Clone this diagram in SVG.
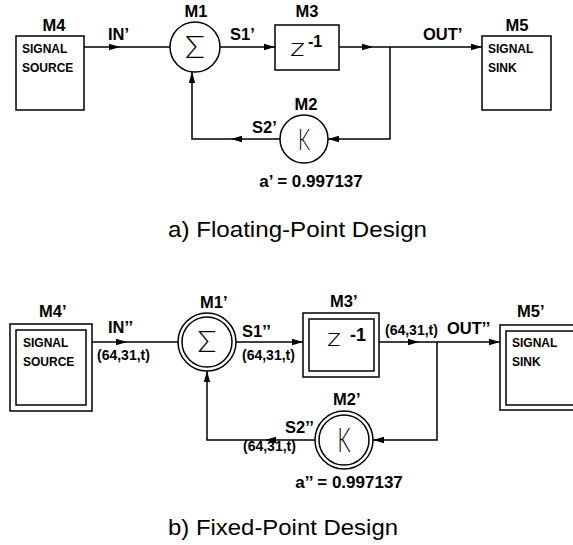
<svg xmlns="http://www.w3.org/2000/svg" xmlns:xlink="http://www.w3.org/1999/xlink" width="573" height="545" viewBox="0 0 573 545">
<style>
  .box { fill: #fff; stroke: #000; stroke-width: 1.5; }
  .ln { fill: none; stroke: #000; stroke-width: 1.5; }
  text { font-family: "Liberation Sans", Arial, sans-serif; fill: #000; }
  .lbl { font-size: 16.5px; font-weight: bold; }
  .sm { font-size: 12px; font-weight: bold; }
  .tup { font-size: 14px; font-weight: bold; }
  .coef { font-size: 17px; font-weight: bold; }
  .cap { font-size: 22px; }
  .thin { font-family: Lato, "DejaVu Sans", sans-serif; font-weight: 300; }
  .sup { font-weight: bold; }
</style>
<defs>
  <path id="ah" d="M0,0 L-11,-3.2 L-11,3.2 Z" fill="#000"/>
</defs>

<!-- ===== a) Floating-point ===== -->
<g id="M4">
  <rect class="box" x="16" y="36" width="68" height="74"/>
  <text class="lbl" x="54" y="31" text-anchor="middle">M4</text>
  <text class="sm" x="22" y="53">SIGNAL</text>
  <text class="sm" x="22" y="72">SOURCE</text>
</g>
<g id="M1">
  <circle class="box" cx="195" cy="47" r="25"/>
  <text class="lbl" x="196" y="17" text-anchor="middle">M1</text>
  <text class="thin" x="195" y="58" font-size="32" text-anchor="middle" textLength="20" lengthAdjust="spacingAndGlyphs">Σ</text>
</g>
<g id="M3">
  <rect class="box" x="275" y="25" width="64" height="45"/>
  <text class="lbl" x="307" y="17" text-anchor="middle">M3</text>
  <text class="thin" x="290" y="55.5" font-size="25" textLength="15" lengthAdjust="spacingAndGlyphs">z</text>
  <text class="sup" x="308" y="47" font-size="16">-1</text>
</g>
<g id="M5">
  <rect class="box" x="482" y="36" width="69" height="74"/>
  <text class="lbl" x="517" y="31" text-anchor="middle">M5</text>
  <text class="sm" x="488" y="53">SIGNAL</text>
  <text class="sm" x="488" y="72">SINK</text>
</g>
<g id="M2">
  <circle class="box" cx="304" cy="139" r="24"/>
  <text class="lbl" x="306" y="110" text-anchor="middle">M2</text>
  <text class="thin" x="304" y="150" font-size="30" text-anchor="middle" textLength="12" lengthAdjust="spacingAndGlyphs">K</text>
</g>

<g id="connectors-a">
  <path class="ln" d="M84 47 H170 M220 47 H275 M339 47 H482 M390 47 V139 H328 M280 139 H192 V72"/>
  <use xlink:href="#ah" transform="translate(120,47)"/>
  <use xlink:href="#ah" transform="translate(275,47)"/>
  <use xlink:href="#ah" transform="translate(373,47)"/>
  <use xlink:href="#ah" transform="translate(482,47)"/>
  <use xlink:href="#ah" transform="translate(328,139) rotate(180)"/>
  <use xlink:href="#ah" transform="translate(231,139) rotate(180)"/>
  <use xlink:href="#ah" transform="translate(192,72) rotate(-90)"/>
  <text class="lbl" x="108" y="40">IN’</text>
  <text class="lbl" x="230" y="40">S1’</text>
  <text class="lbl" x="423" y="40">OUT’</text>
  <text class="lbl" x="252" y="133">S2’</text>
</g>
<text class="coef" x="311" y="187" text-anchor="middle">a’ = 0.997137</text>
<text class="cap" x="168" y="237" textLength="259" lengthAdjust="spacingAndGlyphs">a) Floating-Point Design</text>

<!-- ===== b) Fixed-point ===== -->
<g id="M4p">
  <rect class="box" x="10" y="324" width="82" height="87"/>
  <rect class="box" x="16" y="330" width="70" height="75"/>
  <text class="lbl" x="39" y="317">M4’</text>
  <text class="sm" x="23" y="347">SIGNAL</text>
  <text class="sm" x="23" y="366">SOURCE</text>
</g>
<g id="M1p">
  <circle class="box" cx="207" cy="342" r="29"/>
  <circle class="box" cx="207" cy="342" r="25"/>
  <text class="lbl" x="200" y="308">M1’</text>
  <text class="thin" x="207" y="352" font-size="29" text-anchor="middle" textLength="19" lengthAdjust="spacingAndGlyphs">Σ</text>
</g>
<g id="M3p">
  <rect class="box" x="303" y="313" width="76" height="64"/>
  <rect class="box" x="309" y="319" width="65" height="52"/>
  <text class="lbl" x="330" y="307">M3’</text>
  <text class="thin" x="327" y="345.5" font-size="25" textLength="14" lengthAdjust="spacingAndGlyphs">z</text>
  <text class="sup" x="350" y="341" font-size="18">-1</text>
</g>
<g id="M5p">
  <rect class="box" x="500" y="325" width="82" height="85"/>
  <rect class="box" x="506" y="331" width="70" height="74"/>
  <text class="lbl" x="517" y="317">M5’</text>
  <text class="sm" x="512" y="347">SIGNAL</text>
  <text class="sm" x="512" y="366">SINK</text>
</g>
<g id="M2p">
  <circle class="box" cx="344" cy="440" r="29"/>
  <circle class="box" cx="344" cy="440" r="25"/>
  <text class="lbl" x="333" y="405">M2’</text>
  <text class="thin" x="344" y="452" font-size="33" text-anchor="middle" textLength="13" lengthAdjust="spacingAndGlyphs">K</text>
</g>

<g id="connectors-b">
  <path class="ln" d="M92 342 H178 M236 342 H303 M379 342 H500 M437 342 V440 H373 M315 440 H207 V371"/>
  <use xlink:href="#ah" transform="translate(127,342)"/>
  <use xlink:href="#ah" transform="translate(303,342)"/>
  <use xlink:href="#ah" transform="translate(419,342)"/>
  <use xlink:href="#ah" transform="translate(500,342)"/>
  <use xlink:href="#ah" transform="translate(373,440) rotate(180)"/>
  <use xlink:href="#ah" transform="translate(265,440) rotate(180)"/>
  <use xlink:href="#ah" transform="translate(207,371) rotate(-90)"/>
  <text class="lbl" x="108" y="333">IN’’</text>
  <text class="tup" x="97" y="360">(64,31,t)</text>
  <text class="lbl" x="242" y="337">S1’’</text>
  <text class="tup" x="242" y="360">(64,31,t)</text>
  <text class="tup" x="385" y="335">(64,31,t)</text>
  <text class="lbl" x="447" y="334">OUT’’</text>
  <text class="lbl" x="285" y="433">S2’’</text>
  <text class="tup" x="243" y="451">(64,31,t)</text>
</g>
<text class="coef" x="349" y="488" text-anchor="middle">a’’ = 0.997137</text>
<text class="cap" x="168" y="535" textLength="230" lengthAdjust="spacingAndGlyphs">b) Fixed-Point Design</text>
</svg>
